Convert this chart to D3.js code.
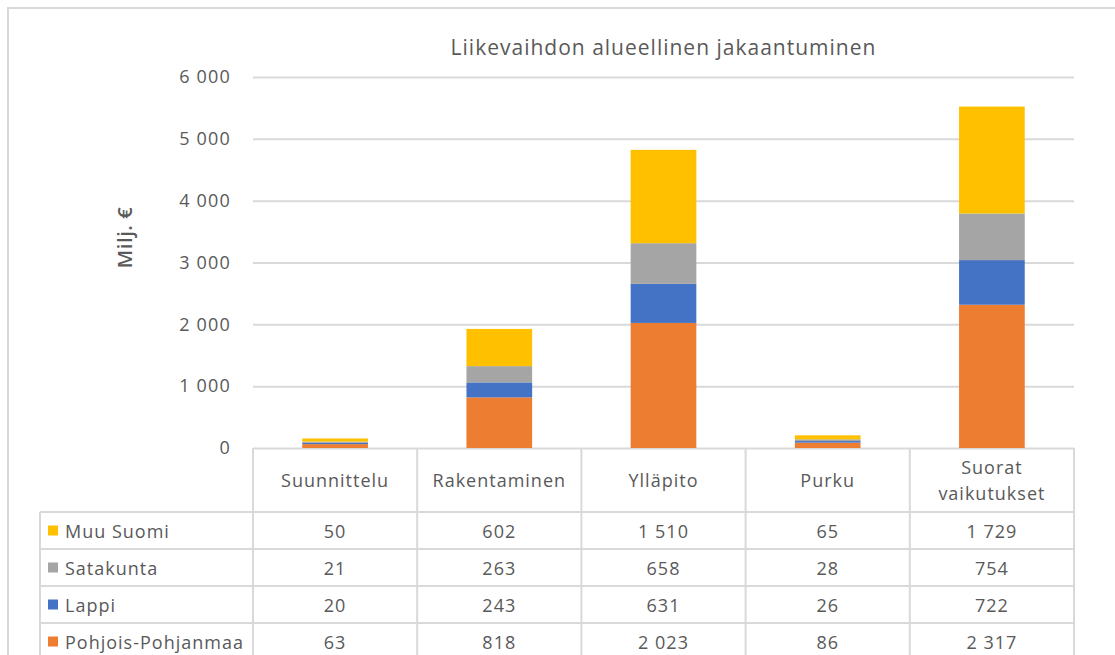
<!DOCTYPE html>
<html>
<head>
<meta charset="utf-8">
<script src="https://cdn.jsdelivr.net/npm/d3@7"></script>
<style>
  body { margin: 0; background: #fff; }
  text { font-family: "Open Sans", "Noto Sans", sans-serif; fill: #595959; }
</style>
</head>
<body>
<div id="chart"></div>
<script>
// data
const categories = ["Suunnittelu", "Rakentaminen", "Ylläpito", "Purku", "Suorat vaikutukset"];
const headerLines = [["Suunnittelu"], ["Rakentaminen"], ["Ylläpito"], ["Purku"], ["Suorat", "vaikutukset"]];
const seriesNames = ["Pohjois-Pohjanmaa", "Lappi", "Satakunta", "Muu Suomi"];
const pohjoisPohjanmaa = [63, 818, 2023, 86, 2317];
const lappi = [20, 243, 631, 26, 722];
const satakunta = [21, 263, 658, 28, 754];
const muuSuomi = [50, 602, 1510, 65, 1729];
const yTicks = [0, 1000, 2000, 3000, 4000, 5000, 6000];
const colors = ["#ED7D31", "#4472C4", "#A5A5A5", "#FFC000"];

const seriesValues = [pohjoisPohjanmaa, lappi, satakunta, muuSuomi];

const width = 1115, height = 655;
const plotLeft = 253, plotRight = 1074, plotTop = 77, plotBottom = 448;
const rowH = 37, headerH = 64, legendLeft = 40;
const tableFont = 18, tableSpacing = "1px";

const fi = d3.formatLocale({ decimal: ",", thousands: " ", grouping: [3], currency: ["", " €"] });
const fmt = fi.format(",d");

const svg = d3.select("#chart").append("svg")
    .attr("width", width)
    .attr("height", height);

// outer frame
svg.append("rect")
    .attr("x", 8).attr("y", 8)
    .attr("width", width).attr("height", height)
    .attr("fill", "none")
    .attr("stroke", "#d9d9d9")
    .attr("stroke-width", 2);

const x = d3.scaleBand()
    .domain(categories)
    .range([plotLeft, plotRight])
    .paddingInner(0.6)
    .paddingOuter(0.3);

const col = d3.scaleBand()
    .domain(categories)
    .range([plotLeft, plotRight]);

const y = d3.scaleLinear()
    .domain([0, 6000])
    .range([plotBottom, plotTop]);

// grid
const grid = svg.append("g")
    .attr("transform", `translate(${plotLeft},0)`)
    .call(d3.axisLeft(y).tickValues(yTicks).tickSize(-(plotRight - plotLeft)).tickFormat(fmt).tickPadding(22));
grid.select(".domain").remove();
grid.selectAll(".tick line").attr("stroke", "#d9d9d9").attr("stroke-width", 2);
grid.selectAll(".tick text")
    .attr("font-size", 18)
    .attr("fill", "#595959")
    .style("letter-spacing", "1.2px")
    .style("font-family", "'Open Sans', sans-serif");

// stacked bars
const rows = categories.map((c, i) => {
    const r = { category: c };
    seriesNames.forEach((s, j) => r[s] = seriesValues[j][i]);
    return r;
});
const stacked = d3.stack().keys(seriesNames)(rows);

svg.append("g")
    .selectAll("g")
    .data(stacked)
    .enter().append("g")
    .attr("fill", (d, i) => colors[i])
    .selectAll("rect")
    .data(d => d)
    .enter().append("rect")
    .attr("x", d => x(d.data.category))
    .attr("width", x.bandwidth())
    .attr("y", d => y(d[1]))
    .attr("height", d => y(d[0]) - y(d[1]));

// title
svg.append("text")
    .attr("x", (plotLeft + plotRight) / 2)
    .attr("y", 55)
    .attr("text-anchor", "middle")
    .attr("font-size", 21)
    .style("letter-spacing", "1px")
    .text("Liikevaihdon alueellinen jakaantuminen");

// y axis title
svg.append("text")
    .attr("transform", `translate(132,${(plotTop + plotBottom) / 2 - 25}) rotate(-90)`)
    .attr("text-anchor", "middle")
    .attr("font-size", 20)
    .attr("font-weight", 600)
    .style("letter-spacing", "0.6px")
    .text("Milj. €");

// data table
const table = svg.append("g");
const lineColor = "#d9d9d9";
const tableRows = seriesNames.slice().reverse();
const tableBottom = plotBottom + headerH + rowH * tableRows.length;

// vertical lines
col.domain().forEach(c => {
    table.append("line")
        .attr("x1", col(c)).attr("x2", col(c))
        .attr("y1", plotBottom).attr("y2", tableBottom)
        .attr("stroke", lineColor).attr("stroke-width", 2);
});
table.append("line")
    .attr("x1", plotRight).attr("x2", plotRight)
    .attr("y1", plotBottom).attr("y2", tableBottom)
    .attr("stroke", lineColor).attr("stroke-width", 2);
table.append("line")
    .attr("x1", legendLeft).attr("x2", legendLeft)
    .attr("y1", plotBottom + headerH).attr("y2", tableBottom)
    .attr("stroke", lineColor).attr("stroke-width", 2);

// horizontal lines
d3.range(tableRows.length + 1).forEach(i => {
    const yy = plotBottom + headerH + i * rowH;
    table.append("line")
        .attr("x1", legendLeft).attr("x2", plotRight)
        .attr("y1", yy).attr("y2", yy)
        .attr("stroke", lineColor).attr("stroke-width", 2);
});

// header
categories.forEach((c, i) => {
    const lines = headerLines[i];
    const cy = plotBottom + headerH / 2;
    const t = table.append("text")
        .attr("text-anchor", "middle")
        .attr("font-size", tableFont)
        .style("letter-spacing", tableSpacing);
    lines.forEach((ln, k) => {
        t.append("tspan")
            .attr("x", col(c) + col.bandwidth() / 2)
            .attr("y", cy + 7 + (k - (lines.length - 1) / 2) * 26)
            .text(ln);
    });
});

// body rows
tableRows.forEach((s, r) => {
    const j = seriesNames.indexOf(s);
    const cy = plotBottom + headerH + r * rowH + rowH / 2;
    table.append("rect")
        .attr("x", 48).attr("y", cy - 5)
        .attr("width", 10).attr("height", 10)
        .attr("fill", colors[j]);
    table.append("text")
        .attr("x", 65).attr("y", cy + 7)
        .attr("font-size", tableFont)
        .style("letter-spacing", tableSpacing)
        .text(s);
    categories.forEach((c, i) => {
        table.append("text")
            .attr("x", col(c) + col.bandwidth() / 2)
            .attr("y", cy + 7)
            .attr("text-anchor", "middle")
            .attr("font-size", tableFont)
            .style("letter-spacing", tableSpacing)
            .text(fmt(seriesValues[j][i]));
    });
});
</script>
</body>
</html>
